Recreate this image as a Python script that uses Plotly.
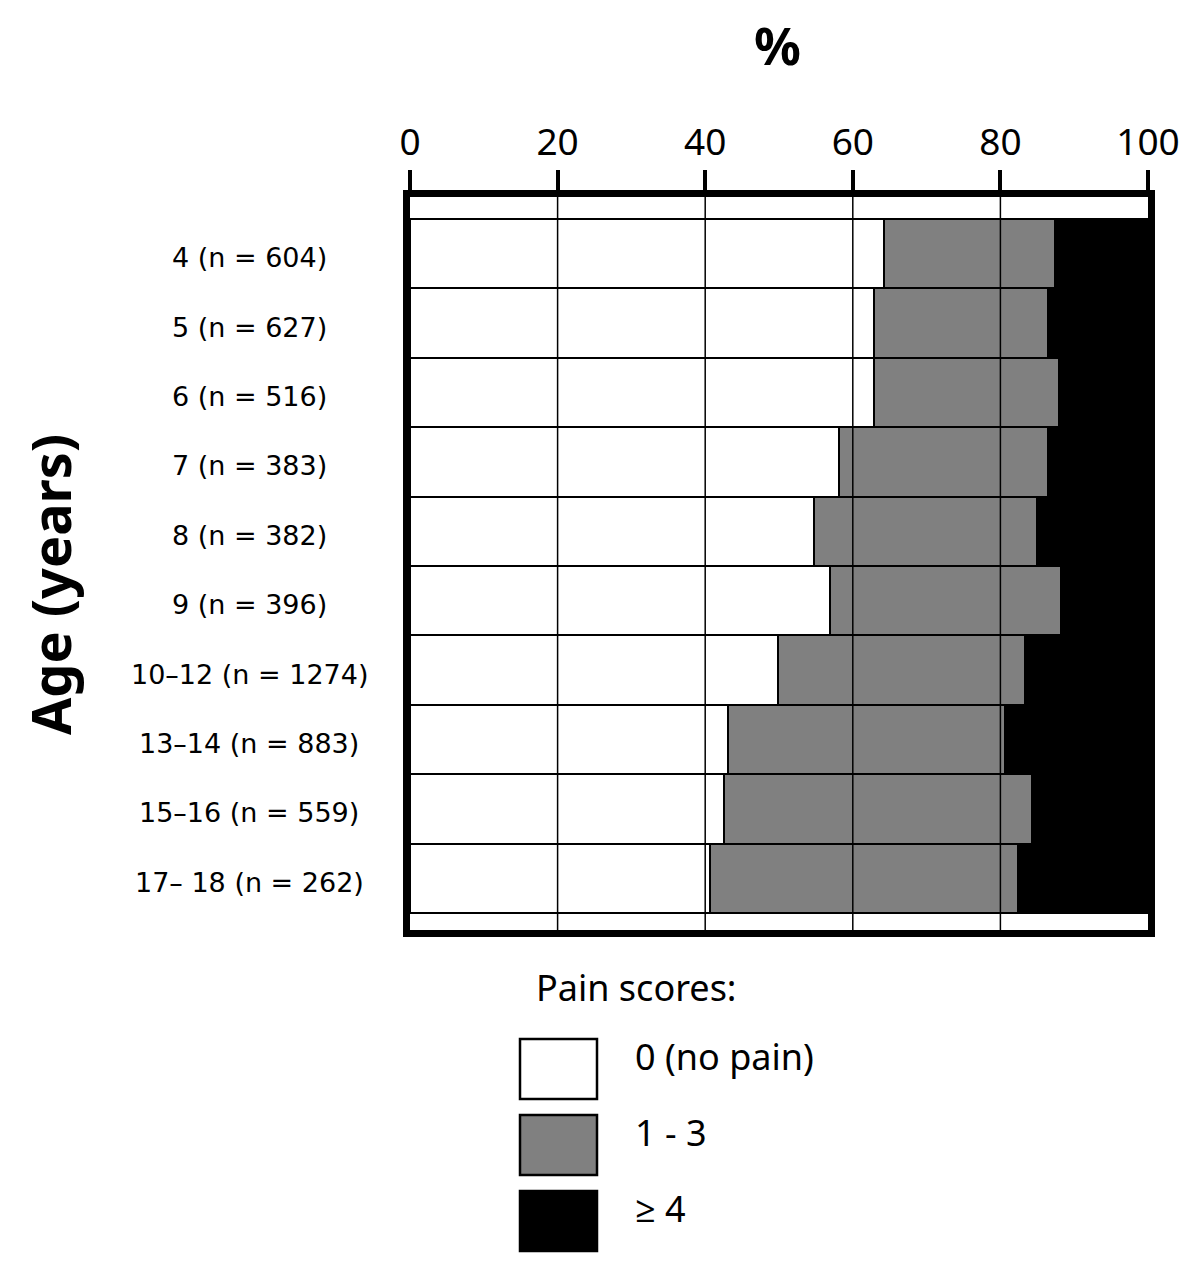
import plotly.graph_objects as go

# Age groups (top to bottom) and pain score shares in %
ages = ["4 (n = 604)", "5 (n = 627)", "6 (n = 516)", "7 (n = 383)", "8 (n = 382)",
        "9 (n = 396)", "10–12 (n = 1274)", "13–14 (n = 883)", "15–16 (n = 559)",
        "17– 18 (n = 262)"]
no_pain = [64.2, 62.9, 62.9, 58.1, 54.7, 56.9, 49.8, 43.1, 42.5, 40.7]
mild = [23.2, 23.5, 25.0, 28.4, 30.2, 31.3, 33.5, 37.5, 41.8, 41.7]
severe = [12.6, 13.6, 12.1, 13.5, 15.1, 11.8, 16.7, 19.4, 15.7, 17.6]

series_names = ["0 (no pain)", "1 - 3", "≥ 4"]
series_colors = ["#ffffff", "#808080", "#000000"]
x_ticks = [0, 20, 40, 60, 80, 100]

W, H = 1200, 1276
OFF = 8  # page body margin
L, R, T, B = 402, 60, 189, 354


def px(x):
    # screen x pixel -> paper coordinate
    return (x - OFF - L) / (W - L - R)


def py(y):
    # screen y pixel -> paper coordinate
    return (H - B - (y - OFF)) / (H - T - B)


fig = go.Figure()
for name, vals, col in zip(series_names, [no_pain, mild, severe], series_colors):
    fig.add_trace(go.Bar(
        y=ages, x=vals, orientation="h", name=name,
        marker=dict(color=col, line=dict(color="black", width=2)),
        showlegend=False,
    ))

# gridlines drawn over the bars
shapes = []
for t in x_ticks[1:-1]:
    shapes.append(dict(type="line", xref="x", yref="y domain", x0=t, x1=t, y0=0, y1=1,
                       line=dict(color="black", width=1.5), layer="above"))

annotations = []
for a in ages:
    annotations.append(dict(text=a, xref="paper", yref="y", x=px(249), y=a, yshift=-4,
                            xanchor="center", yanchor="middle", showarrow=False,
                            font=dict(size=27, color="black", family="DejaVu Sans")))

annotations.append(dict(text="<b>%</b>", xref="paper", yref="paper", x=px(777), y=py(45),
                        xanchor="center", yanchor="middle", showarrow=False,
                        font=dict(size=52, color="black")))
annotations.append(dict(text="<b>Age (years)</b>", xref="paper", yref="paper", x=px(50),
                        y=py(585), xanchor="center", yanchor="middle", showarrow=False,
                        textangle=-90, font=dict(size=54, color="black")))

# legend block
annotations.append(dict(text="Pain scores:", xref="paper", yref="paper", x=px(534), y=py(988),
                        xanchor="left", yanchor="middle", showarrow=False,
                        font=dict(size=36, color="black")))
box_tops = [1039, 1115, 1191]
for name, col, top in zip(series_names, series_colors, box_tops):
    shapes.append(dict(type="rect", xref="paper", yref="paper", x0=px(520), x1=px(597),
                       y0=py(top), y1=py(top + 60), fillcolor=col,
                       line=dict(color="black", width=2.5), layer="above"))
    annotations.append(dict(text=name, xref="paper", yref="paper", x=px(633), y=py(top + 17),
                            xanchor="left", yanchor="middle", showarrow=False,
                            font=dict(size=36, color="black")))

fig.update_layout(
    width=W, height=H,
    margin=dict(l=L, r=R, t=T, b=B),
    barmode="stack", bargap=0,
    plot_bgcolor="white", paper_bgcolor="white",
    font=dict(family="Noto Sans, Open Sans, sans-serif", color="black"),
    shapes=shapes, annotations=annotations,
    xaxis=dict(side="top", range=[0, 100], tickvals=x_ticks, showgrid=False, zeroline=False,
               ticks="outside", ticklen=20, tickwidth=3.5, tickcolor="black",
               showline=True, linewidth=7, linecolor="black", mirror=True,
               tickfont=dict(size=37, color="black")),
    yaxis=dict(range=[9.745, -0.817], showticklabels=False, showgrid=False, zeroline=False,
               ticks="", showline=True, linewidth=7, linecolor="black", mirror=True),
)

fig.write_html("out.html")
